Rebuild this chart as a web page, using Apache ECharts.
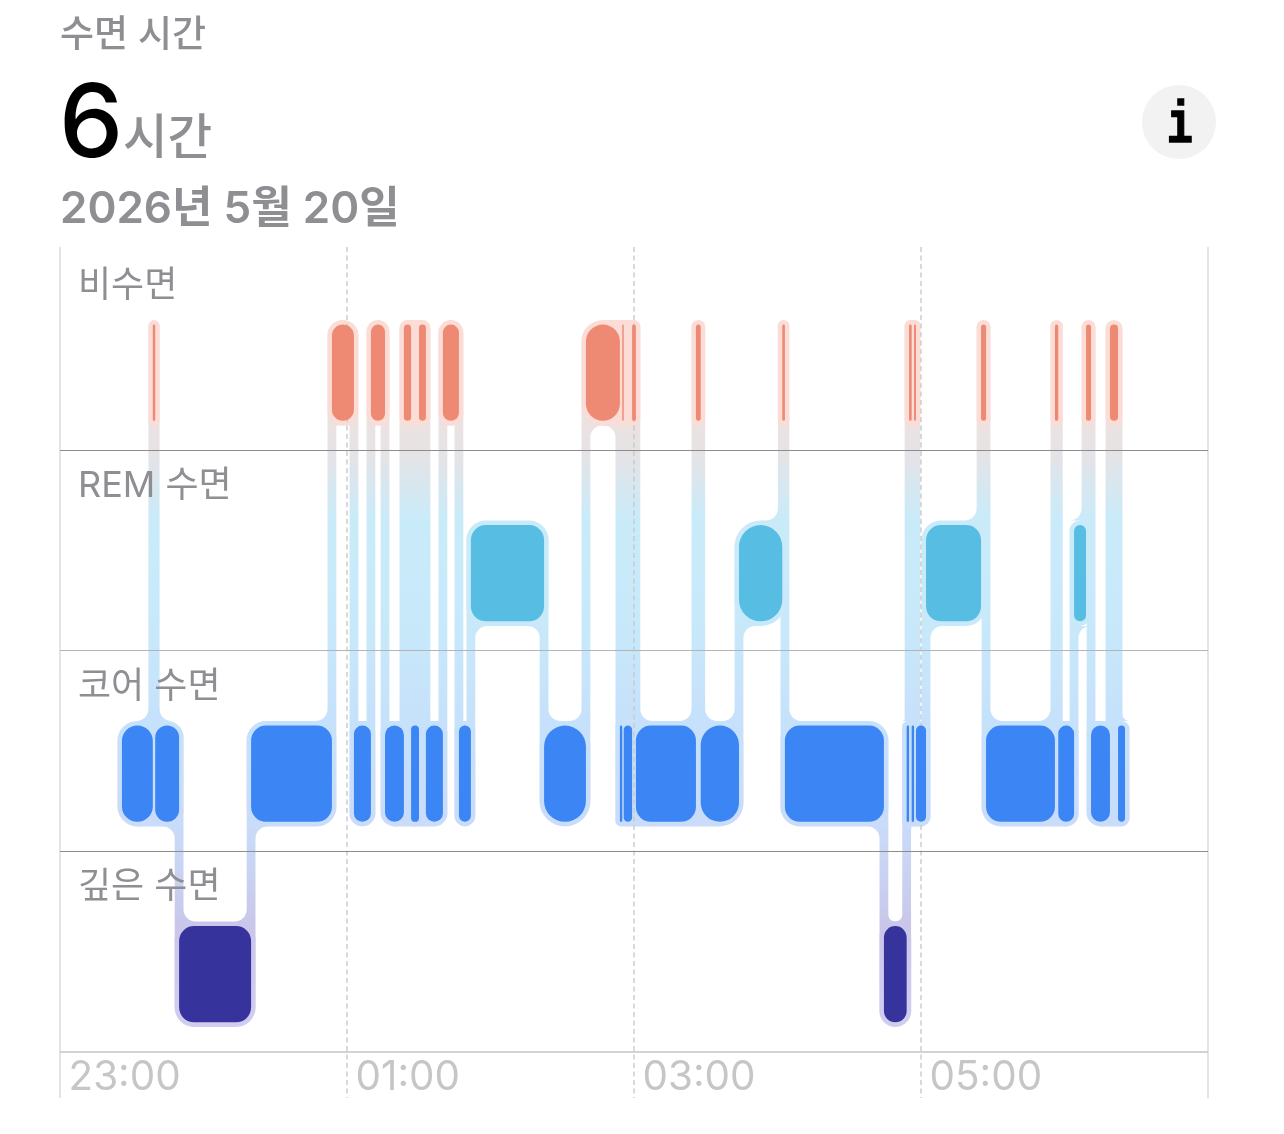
<!DOCTYPE html>
<html><head><meta charset="utf-8">
<style>html,body{margin:0;padding:0;background:#fff;overflow:hidden}#c{width:1284px;height:1134px}</style>
<script src="https://cdn.jsdelivr.net/npm/echarts@6/dist/echarts.min.js"></script>
</head><body><div id="c"></div>
<script>
const rowLabels = ['비수면','REM 수면','코어 수면','깊은 수면'];
const tickLabels = ['23:00','01:00','03:00','05:00'];
// minutes after 23:00 at which each phase changes
const boundaries = [25.9,38.8,39.8,49.8,79.9,113.7,122.9,130.0,135.9,143.8,146.8,150.1,153.0,160.1,166.8,171.8,202.4,219.9,234.1,235.1,235.7,239.2,240.8,265.9,267.9,283.9,302.0,303.1,344.5,354.0,355.0,356.1,357.1,357.9,362.1,385.1,387.2,416.0,417.4,424.0,429.0,431.1,439.0,442.4,445.3];
// row of each phase: 0 awake, 1 REM, 2 core, 3 deep
const phases = [2,0,2,3,2,0,2,0,2,0,2,0,2,0,2,1,2,0,2,0,2,0,2,0,2,1,0,2,3,2,0,2,0,2,1,0,2,0,2,1,0,2,0,2];
const gridTicks = [0,120,240,360,480];
const rowLines = [1,2,3,4];

const barColors = ['#ee8a73','#57bde3','#3c85f5','#36349c'];
const AWAKE_HALO = '#fbdcd6';
const FONT = "Inter, 'Noto Sans CJK KR', sans-serif";
const BAR_TOP = 0.372, BAR_BOTTOM = 0.852;
const PAD = 4.6, HALF = 4.4, FILLET = 12, BRIDGE_MINUTES = 5;

const segments = phases.map((p,i)=>[boundaries[i],boundaries[i+1],p]);
// 1 when both links of phase i leave on the same side of its bar (they form a pocket)
const pocket = i => (i>0 && i<phases.length-1 && Math.sign(phases[i-1]-phases[i])===Math.sign(phases[i+1]-phases[i])) ? 1 : 0;
const links = [];
for (let i=0;i<phases.length-1;i++){
  links.push([boundaries[i+1],phases[i],phases[i+1],boundaries[i+1]-boundaries[i],boundaries[i+2]-boundaries[i+1],pocket(i),pocket(i+1)]);
}
// a very short phase between two bars of one row: their halos run together across it
const bridges = [];
for (let i=1;i<phases.length-1;i++){
  if (phases[i-1]===phases[i+1] && boundaries[i+1]-boundaries[i]<BRIDGE_MINUTES){
    bridges.push([boundaries[i],boundaries[i+1],phases[i-1],boundaries[i]-boundaries[i-1],boundaries[i+2]-boundaries[i+1]]);
  }
}
function bandFill(api){
  return {type:'linear',global:true,x:0,x2:0,
    y:api.coord([0,BAR_BOTTOM])[1], y2:api.coord([0,3+BAR_BOTTOM])[1],
    colorStops:[
      {offset:0,color:'#ece2e0'},{offset:0.05,color:'#e6e3e5'},{offset:0.165,color:'#c9ebf9'},
      {offset:0.33,color:'#c8e9fa'},{offset:0.5,color:'#c6e1fb'},{offset:0.67,color:'#c9dcf9'},
      {offset:0.765,color:'#c9d1f0'},{offset:0.84,color:'#c9c6e9'},{offset:1,color:'#d0cdf0'}]};
}
function segRect(api){
  const row=api.value(2);
  const a=api.coord([api.value(0),row+BAR_TOP]), b=api.coord([api.value(1),row+BAR_BOTTOM]);
  return {x:a[0],y:a[1],w:b[0]-a[0],h:b[1]-a[1],row};
}
const cornerOf=w=>w<50?w/2:15;
function renderHalo(p,api){
  const s=segRect(api);
  return {type:'rect',shape:{x:s.x-PAD,y:s.y-PAD,width:s.w+2*PAD,height:s.h+2*PAD,r:cornerOf(s.w)+PAD},
    style:{fill:s.row===0?AWAKE_HALO:bandFill(api)}};
}
function renderBridge(p,api){
  const s=segRect(api), u=api.size([1,0])[0];
  const cl=cornerOf(api.value(3)*u), cr=cornerOf(api.value(4)*u);
  return {type:'rect',shape:{x:s.x-cl,y:s.y-PAD,width:s.w+cl+cr,height:s.h+2*PAD},
    style:{fill:s.row===0?AWAKE_HALO:bandFill(api)}};
}
function renderBar(p,api){
  const s=segRect(api);
  return {type:'rect',shape:{x:s.x,y:s.y,width:s.w,height:s.h,r:cornerOf(s.w)},
    style:{fill:barColors[s.row]}};
}
function filletRadius(w,inPocket){
  if(!inPocket) return Math.min(FILLET,w);
  const room=w-2*HALF;
  return room>=13.5?Math.min(FILLET,room/2):0;
}
function renderLink(p,api){
  const t=api.value(0), from=api.value(1), to=api.value(2);
  const x=api.coord([t,0])[0];
  const pxPerMin=api.size([1,0])[0];
  const wa=api.value(3)*pxPerMin, wb=api.value(4)*pxPerMin;
  const Ra=filletRadius(wa,api.value(5)), Rb=filletRadius(wb,api.value(6));
  const ca=cornerOf(wa), cb=cornerOf(wb);
  const dir=to>from?1:-1;
  const edge=(row,d)=>d>0?api.coord([0,row+BAR_BOTTOM])[1]+PAD:api.coord([0,row+BAR_TOP])[1]-PAD;
  const yA=edge(from,dir), yB=edge(to,-dir);
  const xl=x-HALF, xr=x+HALF, pts=[];
  // square off the halo corner that faces the link, then flare into it
  const ea=ca+PAD, eb=cb+PAD;
  pts.push([xr,yA-dir*ea],[x-ca,yA-dir*ea],[x-ca,yA]);
  pts.push([Math.min(x-ca,xl-Ra),yA]);
  for(let k=0;k<=8;k++){const th=k/8*Math.PI/2;
    pts.push([xl-Ra+Ra*Math.sin(th), yA+dir*Ra-dir*Ra*Math.cos(th)]);}
  pts.push([xl,yB],[xl,yB+dir*eb],[x+cb,yB+dir*eb],[x+cb,yB]);
  pts.push([Math.max(x+cb,xr+Rb),yB]);
  for(let k=0;k<=8;k++){const th=k/8*Math.PI/2;
    pts.push([xr+Rb-Rb*Math.sin(th), yB-dir*Rb+dir*Rb*Math.cos(th)]);}
  return {type:'polygon',shape:{points:pts},style:{fill:bandFill(api)}};
}
function renderVLine(p,api){
  const v=api.value(0), a=api.coord([v,-0.015]), b=api.coord([v,4.23]);
  const edge=(v===gridTicks[0]||v===gridTicks[gridTicks.length-1]);
  return {type:'line',shape:{x1:a[0],y1:a[1],x2:b[0],y2:b[1]},
    style:{stroke:'#c9c9c9',lineWidth:edge?1:1.4,lineDash:edge?null:[5,3.5],fill:null}};
}
function renderHLine(p,api){
  const v=api.value(0), a=api.coord([0,v]), b=api.coord([gridTicks[gridTicks.length-1],v]);
  const col={1:'#8d8d8d',2:'#b4b4b4',3:'#8d8d8d',4:'#c4c4c4'}[v];
  const y=v===4?Math.round(a[1]):Math.round(a[1])-0.5;
  return {type:'line',shape:{x1:a[0],y1:y,x2:b[0],y2:y},
    style:{stroke:col,lineWidth:v===4?1.5:1,fill:null}};
}
const custom=(name,data,renderItem,z)=>({type:'custom',name,data,renderItem,z,clip:false,silent:true,
  encode:{x:0,y:1},animation:false});
const chart=echarts.init(document.getElementById('c'),null,{renderer:'canvas',width:1284,height:1134});
chart.setOption({
  animation:false,
  backgroundColor:'#fff',
  grid:{left:60,top:250,width:1148,height:802,outerBoundsMode:'none'},
  xAxis:{type:'value',min:0,max:480,interval:120,
    axisLine:{show:false},axisTick:{show:false},splitLine:{show:false},
    axisLabel:{margin:6,align:'left',padding:[0,0,0,8.5],color:'#c6c6c8',fontSize:40.4,fontFamily:FONT,
      showMaxLabel:false,formatter:v=>tickLabels[v/120]||''}},
  yAxis:{type:'value',inverse:true,min:0,max:4,interval:1,z:30,
    axisLine:{show:false},axisTick:{show:false},splitLine:{show:false},
    axisLabel:{inside:true,margin:18,align:'left',verticalAlign:'top',padding:[18,0,0,0],color:'#8e8e93',fontSize:36,fontFamily:FONT,
      formatter:v=>rowLabels[v]||''}},
  series:[
    custom('links',links,renderLink,1),
    custom('halos',segments,renderHalo,2),
    custom('bridges',bridges,renderBridge,2),
    custom('vlines',gridTicks.map(v=>[v]),renderVLine,3),
    custom('hlines',rowLines.map(v=>[v]),renderHLine,3),
    custom('bars',segments,renderBar,4)
  ],
  graphic:[
    {type:'text',left:60,top:17,z:40,style:{text:'수면 시간',fontSize:37,fontFamily:FONT,fill:'#8e8e93',fontWeight:500}},
    {type:'text',left:59,top:75,z:40,style:{text:'6',fontSize:102,fontFamily:FONT,fill:'#000',fontWeight:500}},
    {type:'text',left:123,top:115,z:40,style:{text:'시간',fontSize:48.5,fontFamily:FONT,fill:'#8e8e93',fontWeight:500}},
    {type:'text',left:60,top:188,z:40,style:{text:'2026년 5월 20일',fontSize:44,fontFamily:FONT,fill:'#8e8e93',fontWeight:600}},
    {type:'circle',z:40,shape:{cx:1179,cy:122,r:37},style:{fill:'#f2f2f3'}},
    {type:'text',x:1180,y:127,scaleX:0.72,z:41,style:{text:'i',align:'center',verticalAlign:'middle',fontSize:60,fontWeight:'bold',fontFamily:"'Liberation Mono', monospace",fill:'#000',stroke:'#000',lineWidth:1.6}}
  ]
});
</script></body></html>
